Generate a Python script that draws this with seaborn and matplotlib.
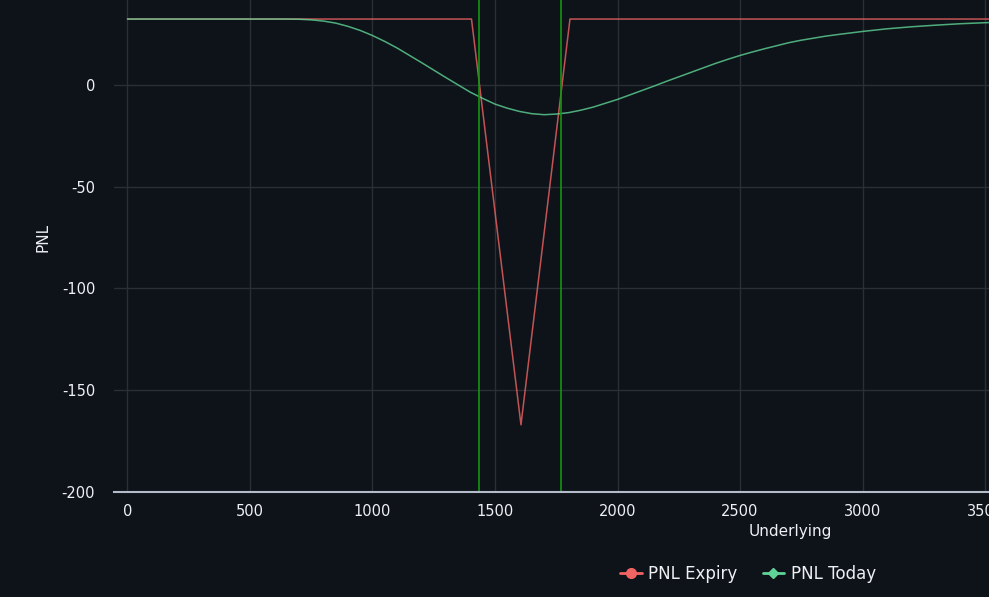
import seaborn as sns
import matplotlib.pyplot as plt
from matplotlib.lines import Line2D
import pandas as pd

# Payoff at expiry (piecewise linear)
expiry_x = [0, 1404, 1606, 1806, 5600]
expiry_pnl = [32.4, 32.4, -167.0, 32.4, 32.4]

# Mark-to-market PNL today
today_x = [0, 600, 650, 700, 750, 800, 850, 900, 950, 1000, 1050, 1100, 1150, 1200,
           1250, 1300, 1350, 1400, 1450, 1500, 1550, 1600, 1650, 1700, 1750, 1800,
           1850, 1900, 1950, 2000, 2050, 2100, 2150, 2200, 2250, 2300, 2350, 2400,
           2450, 2500, 2550, 2600, 2650, 2700, 2750, 2800, 2850, 2900, 3000, 3100,
           3200, 3300, 3400, 3500, 3600, 4000, 4500, 5000, 5600]
today_pnl = [32.4, 32.4, 32.4, 32.3, 32.0, 31.4, 30.4, 28.8, 26.8, 24.3, 21.4, 18.2,
             14.6, 11.0, 7.3, 3.6, 0.0, -3.6, -6.6, -9.4, -11.4, -13.0, -14.1, -14.6,
             -14.3, -13.6, -12.4, -10.9, -9.0, -7.1, -4.9, -2.7, -0.5, 1.8, 4.0, 6.2,
             8.4, 10.6, 12.6, 14.5, 16.2, 17.8, 19.3, 20.8, 22.0, 23.0, 24.0, 24.8,
             26.3, 27.6, 28.6, 29.4, 30.1, 30.6, 31.0, 31.8, 32.2, 32.3, 32.4]

# Vertical markers (breakevens)
markers_x = [1436, 1771]

bg = "#0e1319"
sns.set_style("dark")
plt.rcParams["font.family"] = ["DejaVu Sans"]
plt.rcParams["axes.unicode_minus"] = False

df_exp = pd.DataFrame({"Underlying": expiry_x, "PNL": expiry_pnl})
df_today = pd.DataFrame({"Underlying": today_x, "PNL": today_pnl})

fig = plt.figure(figsize=(9.89, 5.97), dpi=100, facecolor=bg)
ax = fig.add_axes([114 / 989, 105 / 597, (1466 - 114) / 989, 510 / 597])
ax.set_facecolor(bg)

red = "#f06464"
green = "#5fd496"

sns.lineplot(data=df_exp, x="Underlying", y="PNL", ax=ax, color=red, lw=1.1, alpha=0.8)
sns.lineplot(data=df_today, x="Underlying", y="PNL", ax=ax, color=green, lw=1.1, alpha=0.8)
for mx in markers_x:
    ax.axvline(mx, color="#139413", lw=1.2)

ax.set_xlim(-55, 5463)
ax.set_ylim(-200, 50.6)
ax.set_xticks(range(0, 5001, 500))
ax.set_yticks([-200, -150, -100, -50, 0, 50])

ax.grid(True, color="#2a2f35", lw=1)
for s in ["top", "right", "left"]:
    ax.spines[s].set_visible(False)
ax.spines["bottom"].set_color("#b4bccb")
ax.spines["bottom"].set_linewidth(1.5)
ax.tick_params(axis="x", colors="#eef0f4", length=7.5, width=1.3, color="#b4bccb", labelsize=10.5, pad=1)
ax.tick_params(axis="y", colors="#eef0f4", length=0, labelsize=10.5, pad=13.5)

ax.set_xlabel("Underlying", color="#eef0f4", fontsize=11, labelpad=4)
ax.set_ylabel("PNL", color="#eef0f4", fontsize=11, labelpad=8)

handles = [
    Line2D([], [], color=red, marker="o", markersize=7, lw=2),
    Line2D([], [], color=green, marker="D", markersize=5.5, lw=2),
]
leg = fig.legend(handles, ["PNL Expiry", "PNL Today"], loc="center",
                 bbox_to_anchor=(748 / 989, 1 - 574 / 597), ncol=2, frameon=False,
                 fontsize=12, handlelength=1.3, columnspacing=1.5, handletextpad=0.4)
for t in leg.get_texts():
    t.set_color("#eef0f4")

fig.savefig("out.png", dpi=100, facecolor=bg)
plt.close()
